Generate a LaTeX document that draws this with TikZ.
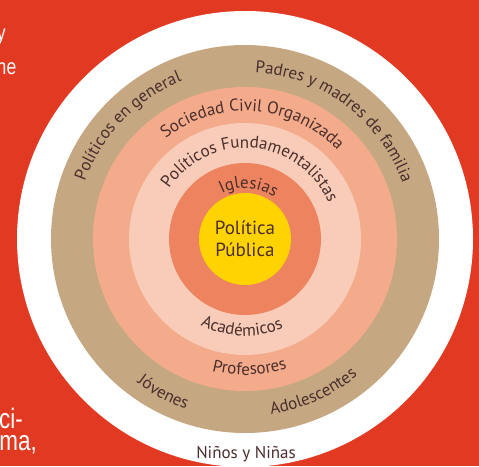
\documentclass[tikz,border=0pt]{standalone}
\usepackage{fontspec}
\setmainfont{PT Sans}
\newfontfamily\condfont[FakeStretch=0.8]{Liberation Sans}
\usetikzlibrary{decorations.text}

\definecolor{bgred}{HTML}{E23A22}
\definecolor{tanring}{HTML}{C5A882}
\definecolor{salmonring}{HTML}{F3AB8B}
\definecolor{blushring}{HTML}{F8CCB8}
\definecolor{coralring}{HTML}{EE845F}
\definecolor{goldcore}{HTML}{FFD300}
\definecolor{ink}{HTML}{4A2E2C}

\tikzset{
  toptext/.style={decorate,decoration={text along path,text align=center,
      text={|\color{ink}\fontsize{17}{20}\selectfont|#1}}},
  bottext/.style={decorate,decoration={text along path,text align=center,
      text={|\color{ink}\fontsize{17}{20}\selectfont|#1}}},
  margin/.style={text=white,font=\condfont\fontsize{#1}{#1}\selectfont,inner sep=0pt,anchor=base east}
}

\begin{document}
\begin{tikzpicture}[x=1pt,y=1pt]
    \useasboundingbox (0,0) rectangle (479,466);
    \clip (0,0) rectangle (479,466);
    \fill[bgred] (0,0) rectangle (479,466);
    \coordinate (c) at (245,227);

    % Rings
    \fill[white] (c) circle (228);
    \fill[tanring] (c) circle (194);
    \fill[salmonring] (c) circle (152);
    \fill[blushring] (c) circle (116);
    \fill[coralring] (c) circle (76);
    \fill[goldcore] (c) circle (46);

    \node[align=center,text=ink,font=\fontsize{19}{22}\selectfont] (pp) at (c) {Política\\Pública};

    % Upper labels
    \path[toptext={Políticos en general}] (c) ++(216:170) arc[start angle=216,end angle=56,radius=170];
    \path[toptext={Padres y madres de familia}] (c) ++(133:167) arc[start angle=133,end angle=-27,radius=167];
    \path[toptext={Sociedad Civil Organizada}] (c) ++(166:128) arc[start angle=166,end angle=6,radius=128];
    \path[toptext={Políticos Fundamentalistas}] (c) ++(175:91) arc[start angle=175,end angle=-5,radius=91];
    \path[toptext={Iglesias}] (c) ++(166:51) arc[start angle=166,end angle=6,radius=51];

    % Lower labels
    \path[bottext={Jóvenes}] (c) ++(162:180) arc[start angle=162,end angle=322,radius=180];
    \path[bottext={Adolescentes}] (c) ++(214:177) arc[start angle=214,end angle=374,radius=177];
    \path[bottext={Profesores}] (c) ++(192:136) arc[start angle=192,end angle=352,radius=136];
    \path[bottext={Académicos}] (c) ++(188:97) arc[start angle=188,end angle=348,radius=97];

    \node[anchor=base,text=ink,font=\fontsize{17}{20}\selectfont,inner sep=0pt] (ninos) at (246,8) {Niños y Niñas};

    % Page text cut off at the left
    \node[margin=22] (fy) at (6,425) {y};
    \node[margin=22] (fhe) at (16.5,391) {he};
    \node[margin=28] (fci) at (23,38) {ci-};
    \node[margin=28] (fma) at (37,16) {ma,};
\end{tikzpicture}
\end{document}
